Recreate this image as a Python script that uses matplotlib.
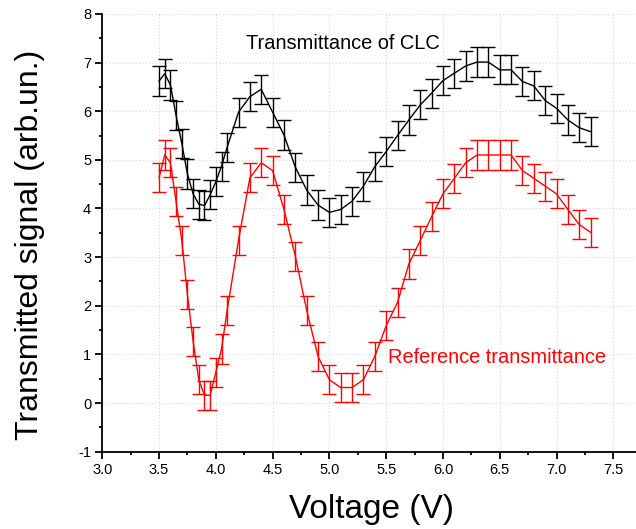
import numpy as np
import matplotlib
matplotlib.use("Agg")
import matplotlib.pyplot as plt
from matplotlib.ticker import MultipleLocator

plt.rcParams['font.family'] = ['Liberation Sans', 'DejaVu Sans']
plt.rcParams['axes.unicode_minus'] = False

# Applied voltage (V): fine steps near the first minimum, then 0.1 V steps
voltage = [3.50, 3.55, 3.60, 3.65, 3.70, 3.75, 3.80, 3.85, 3.90, 3.95, 4.00, 4.05, 4.10,
           4.20, 4.30, 4.40, 4.50, 4.60, 4.70, 4.80, 4.90, 5.00, 5.10, 5.20, 5.30,
           5.40, 5.50, 5.60, 5.70, 5.80, 5.90, 6.00, 6.10, 6.20, 6.30, 6.40, 6.50,
           6.60, 6.70, 6.80, 6.90, 7.00, 7.10, 7.20, 7.30]

# Transmitted signal through the cholesteric liquid crystal cell
clc_signal = [6.62, 6.77, 6.54, 5.91, 5.34, 4.71, 4.30, 4.09, 4.06, 4.28, 4.55, 4.87, 5.26,
              5.98, 6.30, 6.45, 5.98, 5.51, 4.85, 4.38, 4.07, 3.92, 3.98, 4.15, 4.46,
              4.86, 5.17, 5.50, 5.82, 6.13, 6.37, 6.63, 6.78, 6.93, 7.01, 7.01, 6.85,
              6.85, 6.61, 6.52, 6.22, 6.06, 5.82, 5.66, 5.58]

# Reference transmitted signal
ref_signal = [4.63, 5.10, 4.94, 4.14, 3.35, 2.23, 1.27, 0.48, 0.16, 0.16, 0.63, 1.11, 1.91,
              3.35, 4.63, 4.94, 4.78, 3.98, 3.02, 1.91, 0.96, 0.48, 0.32, 0.32, 0.48,
              0.96, 1.59, 2.07, 2.86, 3.34, 3.83, 4.30, 4.62, 4.94, 5.10, 5.10, 5.10,
              5.10, 4.78, 4.62, 4.46, 4.30, 3.98, 3.67, 3.51]

signal_error = 0.3

fig = plt.figure(figsize=(6.36, 5.29), dpi=100)
ax = fig.add_axes([0.1608, 0.1461, 0.8392, 0.8276])

ax.errorbar(voltage, clc_signal, yerr=signal_error, color='black', lw=1.0,
            elinewidth=1.0, capsize=5, capthick=1.0)
ax.errorbar(voltage, ref_signal, yerr=signal_error, color='#ff0000', lw=1.0,
            elinewidth=1.0, capsize=5, capthick=1.0)

ax.text(4.27, 7.4, 'Transmittance of CLC', color='black', fontsize=14.4,
        ha='left', va='center')
ax.text(5.52, 0.94, 'Reference transmittance', color='#ff0000', fontsize=14.4,
        ha='left', va='center')

ax.set_xlim(3.0, 7.7)
ax.set_ylim(-1, 8)
ax.xaxis.set_minor_locator(MultipleLocator(0.25))
ax.yaxis.set_major_locator(MultipleLocator(1))
ax.yaxis.set_minor_locator(MultipleLocator(0.5))
xticks = np.arange(3.0, 7.51, 0.5)
ax.set_xticks(xticks)
ax.set_xticklabels([f'{v:.1f}' for v in xticks])

ax.grid(True, which='major', color='#d8d8d8', linestyle=(0, (1, 2)), lw=0.8)
ax.set_axisbelow(True)

for side in ('top', 'right'):
    ax.spines[side].set_visible(False)
for side in ('left', 'bottom'):
    ax.spines[side].set_linewidth(1.3)

ax.tick_params(which='major', direction='out', length=5, width=1.3, labelsize=10.5, pad=3)
ax.tick_params(which='minor', direction='out', length=2.5, width=1.3)

ax.set_xlabel('Voltage (V)', fontsize=24, va='center')
ax.set_ylabel('Transmitted signal (arb.un.)', fontsize=23, va='center')
ax.xaxis.set_label_coords(0.505, -0.133)
ax.yaxis.set_label_coords(-0.1355, 0.472)

fig.savefig('out.png', dpi=100)
